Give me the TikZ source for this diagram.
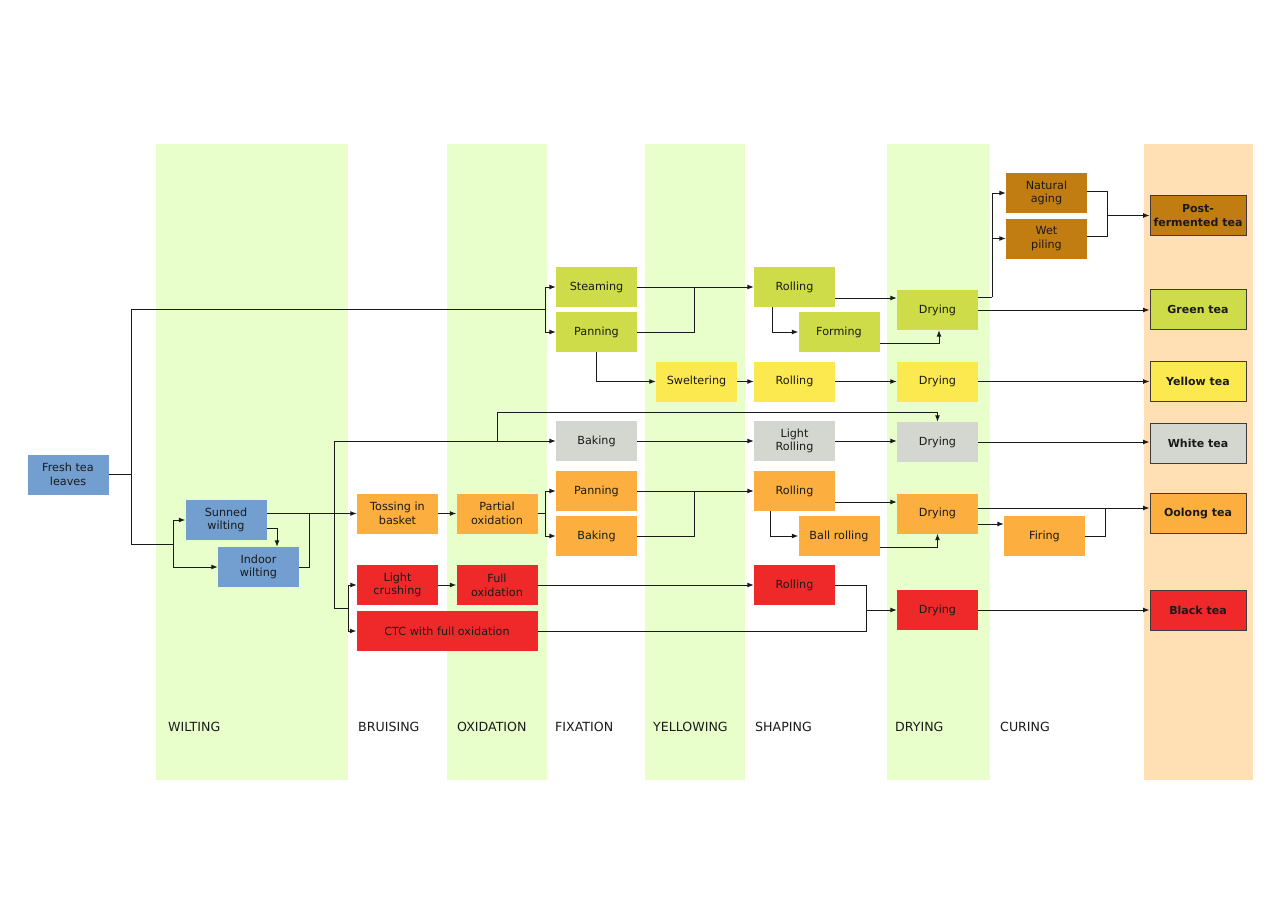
\documentclass[tikz,border=0pt]{standalone}
\usepackage{fontspec}
\setmainfont{DejaVu Sans}
\usetikzlibrary{arrows.meta}
\definecolor{cblue}{HTML}{729FCF}
\definecolor{cgreen}{HTML}{CDDC48}
\definecolor{cyellow}{HTML}{FCE94F}
\definecolor{cgray}{HTML}{D3D7CF}
\definecolor{corange}{HTML}{FCAF3E}
\definecolor{cred}{HTML}{EF2929}
\definecolor{cbrown}{HTML}{C17D11}
\definecolor{bandgreen}{HTML}{E9FFCB}
\definecolor{bandpeach}{HTML}{FFDFB3}
\definecolor{ink}{HTML}{1A1A1A}
\tikzset{
  box/.style={rectangle, minimum width=81pt, minimum height=40pt, inner sep=0pt,
    align=center, text=ink, font=\fontsize{11.2}{13.8}\selectfont},
  teabox/.style={box, draw=ink!85, line width=1pt, minimum width=96pt, minimum height=40pt,
    font=\fontsize{11}{13.8}\selectfont\bfseries},
  stage/.style={anchor=west, inner sep=0pt, text=ink, font=\fontsize{12.6}{14}\selectfont},
  band/.style={fill=bandgreen, draw=none},
  conn/.style={draw=ink, line width=1pt},
  arr/.style={conn, -{Latex[length=6.5pt,width=5pt]}},
}
\begin{document}
\begin{tikzpicture}[x=1pt,y=-1pt]
\useasboundingbox (0,0) rectangle (1280,905);
% bands
\fill[band] (156,144) rectangle (348,780);
\fill[band] (447,144) rectangle (547,780);
\fill[band] (645,144) rectangle (745,780);
\fill[band] (887,144) rectangle (990,780);
\fill[bandpeach] (1144,144) rectangle (1253,780);
% stage labels
\node[stage] (lwilt) at (168,727) {WILTING};
\node[stage] (lbruise) at (358,727) {BRUISING};
\node[stage] (loxid) at (457,727) {OXIDATION};
\node[stage] (lfix) at (555,727) {FIXATION};
\node[stage] (lyell) at (653,727) {YELLOWING};
\node[stage] (lshape) at (755,727) {SHAPING};
\node[stage] (ldry) at (895,727) {DRYING};
\node[stage] (lcure) at (1000,727) {CURING};
% nodes
\node[box, fill=cblue] (fresh) at (68,474.5) {Fresh tea\\leaves};
\node[box, fill=cblue] (sunned) at (226,520) {Sunned\\wilting};
\node[box, fill=cblue] (indoor) at (258.5,567) {Indoor\\wilting};
\node[box, fill=corange] (tossing) at (397.5,513.5) {Tossing in\\basket};
\node[box, fill=corange] (partial) at (497,513.5) {Partial\\oxidation};
\node[box, fill=cred] (lightcrush) at (397.5,585) {Light\\crushing};
\node[box, fill=cred] (fullox) at (497,585) {Full\\oxidation};
\node[box, fill=cred, minimum width=181pt] (ctc) at (447,631) {CTC with full oxidation};
\node[box, fill=cgreen] (steam) at (596.5,287) {Steaming};
\node[box, fill=cgreen] (pangreen) at (596.5,332) {Panning};
\node[box, fill=cgreen] (rollgreen) at (794.5,287) {Rolling};
\node[box, fill=cgreen] (forming) at (839,332) {Forming};
\node[box, fill=cgreen] (drygreen) at (937.5,310) {Drying};
\node[box, fill=cyellow] (swelter) at (696.5,381.5) {Sweltering};
\node[box, fill=cyellow] (rollyellow) at (794.5,381.5) {Rolling};
\node[box, fill=cyellow] (dryyellow) at (937.5,381.5) {Drying};
\node[box, fill=cgray] (bakegray) at (596.5,441) {Baking};
\node[box, fill=cgray] (lightroll) at (794.5,441) {Light\\Rolling};
\node[box, fill=cgray] (drygray) at (937.5,442) {Drying};
\node[box, fill=corange] (panorange) at (596.5,491) {Panning};
\node[box, fill=corange] (bakeorange) at (596.5,536) {Baking};
\node[box, fill=corange] (rollorange) at (794.5,491) {Rolling};
\node[box, fill=corange] (ballroll) at (839,536) {Ball rolling};
\node[box, fill=corange] (dryorange) at (937.5,513.5) {Drying};
\node[box, fill=cred] (rollred) at (794.5,585) {Rolling};
\node[box, fill=cred] (dryred) at (937.5,610) {Drying};
\node[box, fill=cbrown] (natural) at (1046.5,193) {Natural\\aging};
\node[box, fill=cbrown] (wet) at (1046.5,238.5) {Wet\\piling};
\node[box, fill=corange] (firing) at (1044.5,536) {Firing};
\node[teabox, fill=cbrown] (post) at (1198,215.5) {Post-\\fermented tea};
\node[teabox, fill=cgreen] (greentea) at (1198,309) {Green tea};
\node[teabox, fill=cyellow] (yellowtea) at (1198,381) {Yellow tea};
\node[teabox, fill=cgray] (whitetea) at (1198,443) {White tea};
\node[teabox, fill=corange] (oolong) at (1198,513.5) {Oolong tea};
\node[teabox, fill=cred] (blacktea) at (1198,610) {Black tea};
% junction coordinates
\coordinate (s1) at (131,309);
\coordinate (s2) at (545,309);
\coordinate (s3) at (131,544);
\coordinate (s4) at (173,544);
\coordinate (s5) at (277,528);
\coordinate (s6) at (309,513.5);
\coordinate (v1) at (334,441);
\coordinate (v2) at (334,608);
\coordinate (v3) at (348,608);
\coordinate (w1) at (497,412);
\coordinate (p1) at (545,513.5);
\coordinate (r1) at (866,610);
\coordinate (g1) at (694,287);
\coordinate (g2) at (772,0);
\coordinate (g3) at (0,298);
\coordinate (g4) at (939,343);
\coordinate (c1) at (992,297);
\coordinate (c2) at (1107,215.5);
\coordinate (o1) at (694,491);
\coordinate (o2) at (770,0);
\coordinate (o3) at (0,502);
\coordinate (o4) at (937.5,547);
\coordinate (o5) at (0,508);
\coordinate (o6) at (0,524);
\coordinate (o7) at (1105,508);
% connectors
\draw[conn] (fresh.east) -| (s1) -- (s2);
\draw[conn] (fresh.east) -| (s3) -- (s4);
\draw[arr] (s2) |- (steam.west);
\draw[arr] (s2) |- (pangreen.west);
\draw[arr] (s4) |- (sunned.west);
\draw[arr] (s4) |- (indoor.west);
\draw[arr] (sunned.east |- tossing.west) -- (tossing.west);
\draw[arr] (sunned.east |- s5) -| (s5 |- indoor.north);
\draw[conn] (indoor.east) -| (s6);
\draw[conn] (v1) -- (v2);
\draw[arr] (v1) -- (bakegray.west);
\draw[arr] (w1 |- v1) -- (w1) -| (drygray.north);
\draw[conn] (v2) -- (v3);
\draw[arr] (v3) |- (lightcrush.west);
\draw[arr] (v3) |- (ctc.west);
\draw[arr] (tossing) -- (partial);
\draw[arr] (lightcrush) -- (fullox);
\draw[conn] (partial.east) -- (p1);
\draw[arr] (p1) |- (panorange.west);
\draw[arr] (p1) |- (bakeorange.west);
\draw[arr] (fullox.east) -- (rollred.west);
\draw[conn] (rollred.east) -| (r1);
\draw[conn] (ctc.east) -| (r1);
\draw[arr] (r1) -- (dryred.west);
% green path
\draw[arr] (steam.east) -- (rollgreen.west);
\draw[conn] (pangreen.east) -| (g1);
\draw[arr] (pangreen.south) |- (swelter.west);
\draw[arr] (rollgreen.south -| g2) |- (forming.west);
\draw[arr] (rollgreen.east |- g3) -- (drygreen.west |- g3);
\draw[arr] (forming.east |- g4) -| (drygreen.south -| g4);
\draw[arr] (drygreen.east) -- (drygreen.east -| greentea.west);
\draw[conn] (drygreen.east |- c1) -- (c1);
\draw[arr] (c1) |- (natural.west);
\draw[arr] (c1) |- (wet.west);
\draw[conn] ([yshift=2pt]natural.east) -| (c2);
\draw[conn] ([yshift=2.5pt]wet.east) -| (c2);
\draw[arr] (c2) -- (post.west);
% yellow path
\draw[arr] (swelter) -- (rollyellow);
\draw[arr] (rollyellow) -- (dryyellow);
\draw[arr] (dryyellow.east) -- (dryyellow.east -| yellowtea.west);
% white path
\draw[arr] (bakegray) -- (lightroll);
\draw[arr] (lightroll.east) -- (lightroll.east -| drygray.west);
\draw[arr] (drygray.east) -- (drygray.east -| whitetea.west);
% oolong path
\draw[arr] (panorange.east) -- (rollorange.west);
\draw[conn] (bakeorange.east) -| (o1);
\draw[arr] (rollorange.south -| o2) |- (ballroll.west);
\draw[arr] (rollorange.east |- o3) -- (dryorange.west |- o3);
\draw[arr] (ballroll.east |- o4) -| (dryorange.south);
\draw[arr] (dryorange.east |- o5) -- (oolong.west |- o5);
\draw[arr] (dryorange.east |- o6) -- (firing.west |- o6);
\draw[conn] (firing.east) -| (o7);
% black path
\draw[arr] (dryred) -- (blacktea);
\end{tikzpicture}
\end{document}
